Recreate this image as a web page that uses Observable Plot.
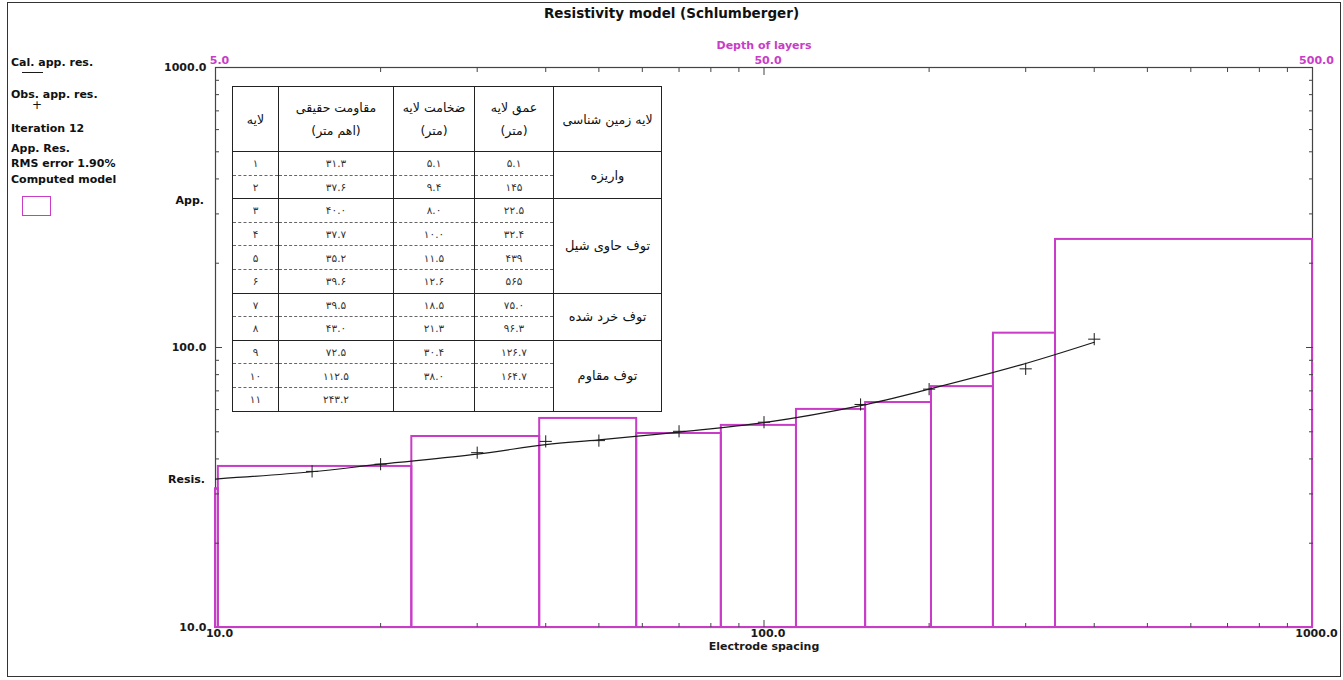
<!DOCTYPE html>
<html>
<head>
<meta charset="utf-8">
<script src="https://cdn.jsdelivr.net/npm/d3@7"></script>
<script src="https://cdn.jsdelivr.net/npm/@observablehq/plot@0.6"></script>
<style>
  body { margin: 0; background: #fff; }
  #page { position: relative; width: 1343px; height: 680px; overflow: hidden; background: #fff; }
  #page svg { position: absolute; left: 0; top: 0; }
  .lbl { position: absolute; font: bold 11px "DejaVu Sans", sans-serif; white-space: nowrap; line-height: 1; transform: translateY(-50%); color: #111; }
  #border { position: absolute; left: 7px; top: 2px; width: 1332px; height: 673px; border: 1px solid #333; }
  #layers { position: absolute; left: 232px; top: 86px; width: 429px; border-collapse: collapse; table-layout: fixed; background: #fff; font: 10.5px "DejaVu Sans", sans-serif; color: #333; border: 1px solid #222; }
  #layers td { text-align: center; vertical-align: middle; padding: 0; border-left: 1px solid #222; border-right: 1px solid #222; border-bottom: 0; white-space: nowrap; }
  #layers td.solid { border-top: 1px solid #222; }
  #layers td.dash { border-top: 1px dashed #666; }
  #layers tr.hd td { border-bottom: 1px solid #222; line-height: 23px; font-size: 12.5px; color: #111; }
  #layers tr.row { height: 23.6px; }
</style>
</head>
<body>
<div id="page"></div>
<script>
// ---- Sounding data (Schlumberger, AB/2 in metres, apparent resistivity in ohm-m) ----
const obsSpacing = [15, 20, 30, 40, 50, 70, 100, 150, 200, 300, 400];
const obsRes     = [36.1, 38.3, 42.1, 46.2, 46.5, 50.2, 54.1, 62.6, 71.0, 83.9, 107.1];

const calSpacing = [10, 15, 20, 30, 40, 50, 70, 100, 150, 200, 300, 400];
const calRes     = [33.9, 36.0, 38.3, 41.6, 45.0, 46.8, 49.9, 53.9, 62.0, 71.0, 87.7, 104.4];

// ---- Computed layered model: depth to base of each layer (m) and layer resistivity ----
const modelBase = [5.06, 11.4, 19.5, 29.3, 41.8, 57.3, 76.6, 101, 131, 170];
const modelRes  = [31.3, 37.6, 48.1, 55.8, 49.3, 52.7, 60.1, 63.6, 72.5, 112.5, 243.2];

// ---- Axis ticks ----
const decadeTicks = [10, 100, 1000];
const minorTicks  = [20, 30, 40, 50, 60, 70, 80, 90, 200, 300, 400, 500, 600, 700, 800, 900];

// ---- Interpretation table ----
const headGeology   = "لایه زمین شناسی";
const headDepth     = ["عمق  لایه", "(متر)"];
const headThickness = ["ضخامت لایه", "(متر)"];
const headRes       = ["مقاومت حقیقی", "(اهم متر)"];
const headLayer     = "لایه";
const layerNo   = ["۱", "۲", "۳", "۴", "۵", "۶", "۷", "۸", "۹", "۱۰", "۱۱"];
const trueRes   = ["۳۱.۳", "۳۷.۶", "۴۰.۰", "۳۷.۷", "۳۵.۲", "۳۹.۶", "۳۹.۵", "۴۳.۰", "۷۲.۵", "۱۱۲.۵", "۲۴۳.۲"];
const thickness = ["۵.۱", "۹.۴", "۸.۰", "۱۰.۰", "۱۱.۵", "۱۲.۶", "۱۸.۵", "۲۱.۳", "۳۰.۴", "۳۸.۰", ""];
const depthText = ["۵.۱", "۱۴۵", "۲۲.۵", "۳۲.۴", "۴۳۹", "۵۶۵", "۷۵.۰", "۹۶.۳", "۱۲۶.۷", "۱۶۴.۷", ""];
const unitNames = ["واریزه", "توف حاوی شیل", "توف خرد شده", "توف مقاوم"];
const unitRows  = [2, 4, 2, 3];

// ---- Legend / labels ----
const titleText = "Resistivity model (Schlumberger)";
const legendLines = [
  ["Cal. app. res.", 62], ["Obs. app. res.", 94], ["Iteration 12", 128],
  ["App. Res.", 147.5], ["RMS error 1.90%", 162.5], ["Computed model", 179]
];

const MAGENTA = "#c83cc8";
const INK = "#1a1a1a";
const xDomain = [10, 1000];
const yDomain = [10, 1000];

const observed = obsSpacing.map((x, i) => ({x, rho: obsRes[i]}));
const calculated = calSpacing.map((x, i) => ({x, rho: calRes[i]}));
// Model layers are plotted against the depth axis (depth = AB/2 ÷ 2 on the top scale)
const layers = modelRes.map((rho, i) => ({
  rho,
  top: i === 0 ? null : modelBase[i - 1],
  base: i < modelBase.length ? modelBase[i] : null
}));

const noText = () => "";

const chart = Plot.plot({
  width: 1343,
  height: 680,
  marginLeft: 215,
  marginRight: 31,
  marginTop: 67,
  marginBottom: 53,
  x: {type: "log", domain: xDomain},
  y: {type: "log", domain: yDomain},
  style: {fontFamily: "DejaVu Sans", fontSize: "11px", fontWeight: "bold", color: INK, background: "white"},
  marks: [
    Plot.frame({stroke: "#444", strokeWidth: 1.2}),
    Plot.rect(layers, {
      x1: d => d.top == null ? xDomain[0] : 2 * d.top,
      x2: d => d.base == null ? xDomain[1] : 2 * d.base,
      y1: () => yDomain[0],
      y2: "rho",
      fill: "none",
      stroke: MAGENTA,
      strokeWidth: 2
    }),
    Plot.line(calculated, {x: "x", y: "rho", curve: "catmull-rom", stroke: INK, strokeWidth: 1.2}),
    Plot.dot(observed, {x: "x", y: "rho", symbol: "plus", r: 4, stroke: INK, strokeWidth: 1}),

    // left axis
    Plot.axisY({anchor: "left", ticks: decadeTicks, tickSize: 0, tickPadding: 9, tickFormat: d => d.toFixed(1), label: null}),
    Plot.axisY({anchor: "left", ticks: minorTicks, tickSize: -4, tickFormat: noText, label: null, stroke: "#444"}),
    Plot.axisY({anchor: "left", ticks: [100], tickSize: -7, tickFormat: noText, label: null, stroke: "#444"}),
    // right axis
    Plot.axisY({anchor: "right", ticks: minorTicks, tickSize: -4, tickFormat: noText, label: null, stroke: "#444"}),
    Plot.axisY({anchor: "right", ticks: [100], tickSize: -7, tickFormat: noText, label: null, stroke: "#444"}),
    // bottom axis: electrode spacing
    Plot.axisX({anchor: "bottom", ticks: decadeTicks, tickSize: 0, tickPadding: 2, tickFormat: d => d.toFixed(1), label: null, dx: 4}),
    Plot.axisX({anchor: "bottom", ticks: minorTicks, tickSize: -4, tickFormat: noText, label: null, stroke: "#444"}),
    Plot.axisX({anchor: "bottom", ticks: [100], tickSize: -7, tickFormat: noText, label: null, stroke: "#444"}),
    // top axis: depth of layers
    Plot.axisX({anchor: "top", ticks: decadeTicks, tickSize: 0, tickPadding: 4, tickFormat: d => (d / 2).toFixed(1), fill: MAGENTA, label: null, dx: 4}),
    Plot.axisX({anchor: "top", ticks: minorTicks, tickSize: -4, tickFormat: noText, label: null, stroke: "#444"}),
    Plot.axisX({anchor: "top", ticks: [100], tickSize: -7, tickFormat: noText, label: null, stroke: "#444"}),

    Plot.text(["Electrode spacing"], {frameAnchor: "bottom", dy: 22, text: d => d, fill: INK}),
    Plot.text(["Depth of layers"], {frameAnchor: "top", dy: -26, text: d => d, fill: MAGENTA})
  ]
});

const page = document.getElementById("page");
page.appendChild(chart);

function addLabel(text, css) {
  const el = document.createElement("div");
  el.className = "lbl";
  el.textContent = text;
  Object.assign(el.style, css);
  page.appendChild(el);
  return el;
}

// title
addLabel(titleText, {left: "0px", width: "1343px", textAlign: "center", top: "14px", fontSize: "13.5px"});

// legend block
legendLines.forEach(([t, y]) => addLabel(t, {left: "11px", top: y + "px"}));
const calSwatch = document.createElement("div");
Object.assign(calSwatch.style, {position: "absolute", left: "22px", top: "72px", width: "21px", borderTop: "1px solid " + INK});
page.appendChild(calSwatch);
addLabel("+", {left: "32px", top: "105px", fontWeight: "normal", fontSize: "12px"});
const modelSwatch = document.createElement("div");
Object.assign(modelSwatch.style, {position: "absolute", left: "22px", top: "196px", width: "27px", height: "18px", border: "1px solid " + MAGENTA});
page.appendChild(modelSwatch);

// y-axis title, split along the axis
addLabel("App.", {right: (1343 - 204) + "px", top: "200px"});
addLabel("Resis.", {right: (1343 - 205) + "px", top: "479px"});

// interpretation table (right-to-left)
const table = document.createElement("table");
table.id = "layers";
table.dir = "rtl";
const colgroup = document.createElement("colgroup");
[108, 79, 81, 115, 46].forEach(w => {
  const c = document.createElement("col");
  c.style.width = w + "px";
  colgroup.appendChild(c);
});
table.appendChild(colgroup);

const hd = document.createElement("tr");
hd.className = "hd";
hd.style.height = "65px";
[headGeology, headDepth, headThickness, headRes, headLayer].forEach(h => {
  const td = document.createElement("td");
  if (Array.isArray(h)) td.innerHTML = h[0] + "<br>" + h[1];
  else td.textContent = h;
  hd.appendChild(td);
});
table.appendChild(hd);

const groupStart = new Map();
let acc = 0;
unitNames.forEach((n, g) => { groupStart.set(acc, g); acc += unitRows[g]; });

layerNo.forEach((no, i) => {
  const tr = document.createElement("tr");
  tr.className = "row";
  const starts = groupStart.has(i);
  const cls = starts ? "solid" : "dash";
  if (starts) {
    const g = groupStart.get(i);
    const td = document.createElement("td");
    td.rowSpan = unitRows[g];
    td.className = "solid";
    td.style.fontSize = "13px";
    td.style.color = "#111";
    td.textContent = unitNames[g];
    tr.appendChild(td);
  }
  [depthText[i], thickness[i], trueRes[i], no].forEach(v => {
    const td = document.createElement("td");
    td.className = cls;
    td.textContent = v;
    tr.appendChild(td);
  });
  table.appendChild(tr);
});
page.appendChild(table);

const border = document.createElement("div");
border.id = "border";
page.appendChild(border);
</script>
</body>
</html>
